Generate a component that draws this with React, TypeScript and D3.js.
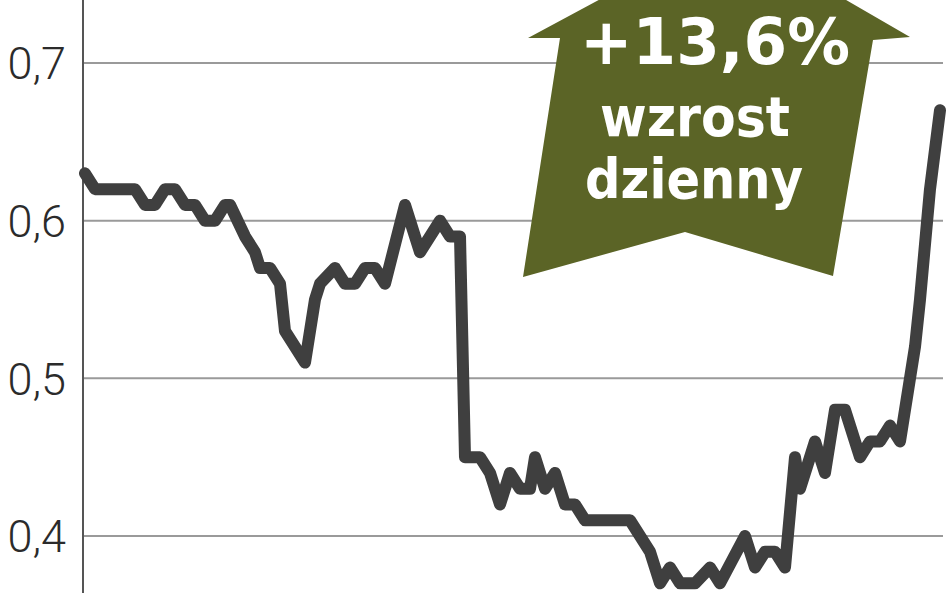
import * as d3 from "d3";

// Trading day index and closing price (PLN).
const days = [
  0, 2, 10, 12, 14, 16, 18, 20, 22, 24, 26, 28, 29, 32, 34, 35, 37, 39, 40, 42, 44, 46, 47, 50, 52, 54, 56, 58, 60,
  64, 67, 71, 73, 75, 76, 79, 81, 83, 85, 87, 89, 90, 92, 94, 96, 98, 100, 109, 113, 115, 117, 119, 122, 125, 127,
  132, 134, 136, 138, 140, 142, 143, 146, 148, 150, 152, 155, 157, 159, 161, 163, 166, 167, 169, 171,
];
const prices = [
  0.63, 0.62, 0.62, 0.61, 0.61, 0.62, 0.62, 0.61, 0.61, 0.6, 0.6, 0.61, 0.61, 0.59, 0.58, 0.57, 0.57, 0.56, 0.53, 0.52,
  0.51, 0.55, 0.56, 0.57, 0.56, 0.56, 0.57, 0.57, 0.56, 0.61, 0.58, 0.6, 0.59, 0.59, 0.45, 0.45, 0.44, 0.42, 0.44,
  0.43, 0.43, 0.45, 0.43, 0.44, 0.42, 0.42, 0.41, 0.41, 0.39, 0.37, 0.38, 0.37, 0.37, 0.38, 0.37, 0.4, 0.38, 0.39,
  0.39, 0.38, 0.45, 0.43, 0.46, 0.44, 0.48, 0.48, 0.45, 0.46, 0.46, 0.47, 0.46, 0.52, 0.55, 0.62, 0.67,
];
const yTicks = [0.4, 0.5, 0.6, 0.7];
const badgeLines = ["+13,6%", "wzrost", "dzienny"];

const WIDTH = 948;
const HEIGHT = 593;
const AXIS_X = 83;
const GRID_END = 943;

// Olive "up" arrow badge behind the annotation text.
const ARROW = "M727,-69 L910,37 L873,40 L833,276 L685,232 L523,277 L560,38 L528,38 Z";

export default function App() {
  const x = d3.scaleLinear().domain([0, 171]).range([85, 940]);
  const y = d3.scaleLinear().domain([0.4, 0.7]).range([536, 63]);
  const points = days.map((d, i) => ({ day: d, price: prices[i] }));
  const line = d3
    .line<{ day: number; price: number }>()
    .x((p) => x(p.day))
    .y((p) => y(p.price));

  return (
    <svg
      width={WIDTH}
      height={HEIGHT}
      viewBox={`0 0 ${WIDTH} ${HEIGHT}`}
      style={{ position: "absolute", left: 0, top: 0, background: "#fff" }}
    >
      {yTicks.map((t) => (
        <g key={t}>
          <line x1={AXIS_X} x2={GRID_END} y1={y(t)} y2={y(t)} stroke="#9a9a9a" strokeWidth={2} />
          <text
            x={66}
            y={y(t)}
            dy="0.36em"
            textAnchor="end"
            fontFamily="Roboto, sans-serif"
            fontWeight={300}
            fontSize={45}
            fill="#2b2b2b"
          >
            {t.toFixed(1).replace(".", ",")}
          </text>
        </g>
      ))}
      <line x1={AXIS_X} x2={AXIS_X} y1={0} y2={HEIGHT} stroke="#555" strokeWidth={2} />

      <path
        d={line(points) ?? ""}
        fill="none"
        stroke="#3f3f3f"
        strokeWidth={12}
        strokeLinejoin="round"
        strokeLinecap="round"
      />

      <path d={ARROW} fill="#5b6426" />
      <g fontFamily="'DejaVu Sans', sans-serif" fontWeight={700} fill="#fff" textAnchor="middle">
        <text x={715} y={64} fontSize={64} textLength={270} lengthAdjust="spacingAndGlyphs">
          {badgeLines[0]}
        </text>
        <text x={695} y={136} fontSize={56} textLength={190} lengthAdjust="spacingAndGlyphs">
          {badgeLines[1]}
        </text>
        <text x={694} y={198} fontSize={56} textLength={218} lengthAdjust="spacingAndGlyphs">
          {badgeLines[2]}
        </text>
      </g>
    </svg>
  );
}
